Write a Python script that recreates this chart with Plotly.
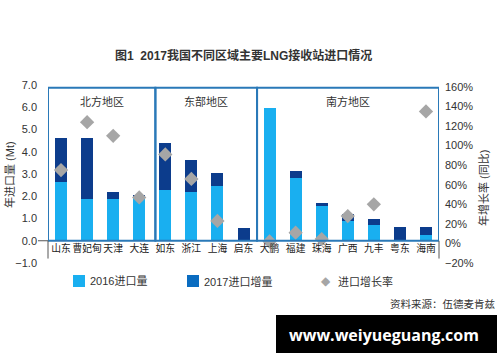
import plotly.graph_objects as go

categories = ["山东", "曹妃甸", "天津", "大连", "如东", "浙江", "上海", "启东",
              "大鹏", "福建", "珠海", "广西", "九丰", "粤东", "海南"]
import_2016 = [2.63, 1.88, 1.88, 1.91, 2.27, 2.20, 2.44, 0.0,
               5.98, 2.84, 1.54, 0.87, 0.72, 0.0, 0.27]
increase_2017 = [1.98, 2.72, 0.33, 0.15, 2.14, 1.43, 0.60, 0.57,
                 0.0, 0.30, 0.15, 0.34, 0.25, 0.61, 0.33]
growth_rate = [0.75, 1.24, 1.10, 0.47, 0.91, 0.66, 0.23, None,
               0.02, 0.11, 0.045, 0.28, 0.40, None, 1.35]
regions = ["北方地区", "东部地区", "南方地区"]
region_bounds = [(-0.5, 3.62), (3.62, 7.52), (7.52, 14.5)]

W, H = 500, 362
L, R, T, B = 48, 61, 85, 99
PW, PH = W - L - R, H - T - B


def px(x):
    return (x - L) / PW


def py(y):
    return (H - B - y) / PH


FONT = "Liberation Sans, Noto Sans CJK SC, sans-serif"
LIGHT = "#19aff0"
DARK = "#0c3c8c"
LEGDARK = "#0a6cc0"
GRAY = "#a6a6a6"
BOX = "#2a79b8"

fig = go.Figure()
fig.add_trace(go.Bar(x=categories, y=import_2016, name="2016进口量",
                     marker=dict(color=LIGHT, line=dict(width=0)), width=0.46,
                     showlegend=False))
fig.add_trace(go.Bar(x=categories, y=increase_2017, name="2017进口增量",
                     marker=dict(color=DARK, line=dict(width=0)), width=0.46,
                     showlegend=False))
fig.add_trace(go.Scatter(x=categories, y=growth_rate, yaxis="y2", mode="markers",
                         name="进口增长率",
                         marker=dict(symbol="diamond", size=11, color=GRAY),
                         showlegend=False))

shapes = []
annotations = []
for name, (x0, x1) in zip(regions, region_bounds):
    shapes.append(dict(type="rect", xref="x", yref="y", x0=x0, x1=x1, y0=0, y1=6.88,
                       line=dict(color=BOX, width=2), layer="above"))
    annotations.append(dict(xref="x", yref="y", x=(x0 + x1) / 2, y=6.24, text=name,
                            showarrow=False, font=dict(size=11, color="#333", family=FONT)))

# axis stubs below zero and zero tick
for xp in (0, 1):
    shapes.append(dict(type="line", xref="paper", yref="y", x0=xp, x1=xp, y0=0, y1=-0.8,
                       line=dict(color="#555", width=1)))
shapes.append(dict(type="line", xref="paper", yref="y", x0=px(38), x1=0, y0=0, y1=0,
                   line=dict(color="#555", width=1)))

# legend (manual)
shapes.append(dict(type="rect", xref="paper", yref="paper", x0=px(73), x1=px(85),
                   y0=py(287), y1=py(275), fillcolor=LIGHT, line=dict(width=0)))
shapes.append(dict(type="rect", xref="paper", yref="paper", x0=px(187), x1=px(199),
                   y0=py(287), y1=py(275), fillcolor=LEGDARK, line=dict(width=0)))
annotations += [
    dict(xref="paper", yref="paper", x=px(88), y=py(281), xanchor="left", yanchor="middle",
         text="2016进口量", showarrow=False, font=dict(size=11, color="#333", family=FONT)),
    dict(xref="paper", yref="paper", x=px(202), y=py(281), xanchor="left", yanchor="middle",
         text="2017进口增量", showarrow=False, font=dict(size=11, color="#333", family=FONT)),
    dict(xref="paper", yref="paper", x=px(326), y=py(281), xanchor="center", yanchor="middle",
         text="◆", showarrow=False, font=dict(size=12, color=GRAY, family="DejaVu Sans")),
    dict(xref="paper", yref="paper", x=px(336), y=py(281), xanchor="left", yanchor="middle",
         text="进口增长率", showarrow=False, font=dict(size=11, color="#333", family=FONT)),
    # axis titles
    dict(xref="paper", yref="paper", x=px(9), y=py(175), xanchor="center", yanchor="middle",
         text="年进口量 (Mt)", textangle=-90, showarrow=False,
         font=dict(size=11, color="#333", family=FONT)),
    dict(xref="paper", yref="paper", x=px(483), y=py(188), xanchor="center", yanchor="middle",
         text="年增长率 (同比)", textangle=-90, showarrow=False,
         font=dict(size=11, color="#333", family=FONT)),
    # title
    dict(xref="paper", yref="paper", x=px(243), y=py(55), xanchor="center", yanchor="middle",
         text="<b>图1  2017我国不同区域主要LNG接收站进口情况</b>", showarrow=False,
         font=dict(size=12, color="#333", family=FONT)),
    # source
    dict(xref="paper", yref="paper", x=px(497), y=py(304), xanchor="right", yanchor="middle",
         text="资料来源：伍德麦肯兹", showarrow=False,
         font=dict(size=10.5, color="#333", family=FONT)),
]

# watermark
shapes.append(dict(type="rect", xref="paper", yref="paper", x0=px(276), x1=px(497),
                   y0=py(353), y1=py(315), fillcolor="#000", line=dict(width=0), layer="above"))
annotations.append(dict(xref="paper", yref="paper", x=px(384), y=py(335), xanchor="center",
                        yanchor="middle", text="<b>www.weiyueguang.com</b>", showarrow=False,
                        font=dict(size=16, color="#fff", family="Open Sans, DejaVu Sans")))

fig.update_layout(
    width=W, height=H,
    margin=dict(l=L, r=R, t=T, b=B),
    paper_bgcolor="white", plot_bgcolor="white",
    barmode="stack", bargap=0.5,
    font=dict(family=FONT, size=11, color="#333"),
    xaxis=dict(type="category", range=[-0.5, 14.5], anchor="free", position=1 / 8,
               showline=False, showgrid=False, zeroline=False, ticks="", tickangle=0,
               tickfont=dict(size=9.8, color="#222", family=FONT)),
    yaxis=dict(range=[-1, 7], dtick=1, tickformat=".1f", showgrid=False, zeroline=False,
               showline=False, ticks="", ticklabelstandoff=10,
               tickfont=dict(size=11, color="#333", family=FONT)),
    yaxis2=dict(range=[-0.2, 1.62], dtick=0.2, tickformat=".0%", overlaying="y", side="right",
                showgrid=False, zeroline=False, showline=False, ticks="", ticklabelstandoff=5,
                tickfont=dict(size=11, color="#333", family=FONT)),
    shapes=shapes,
    annotations=annotations,
)

fig.write_html("out.html", config={"displayModeBar": False},
               post_script="document.body.style.margin='0';")
